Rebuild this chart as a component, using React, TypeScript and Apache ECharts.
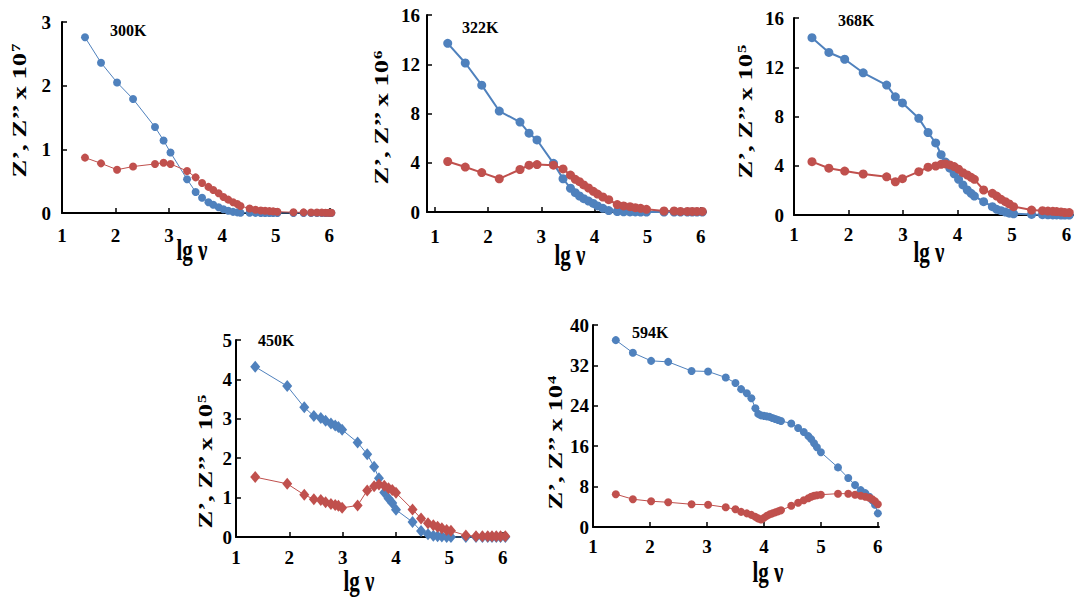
import React, { useEffect, useRef } from "react";
import * as echarts from "echarts";

// ---------- data (lg ν, Z', Z'') ----------
const LG_TICKS = [1, 2, 3, 4, 5, 6];
const TEMPS = ["300K", "322K", "368K", "450K", "594K"];
const EXPONENTS = ["7", "6", "5", "5", "4"];
const Y_MAX = [3, 16, 16, 5, 40];
const Y_STEP = [1, 4, 4, 1, 8];

const T300_LGV = [1.43, 1.73, 2.03, 2.33, 2.74, 2.9, 3.03, 3.34, 3.5, 3.62, 3.74, 3.83, 3.93, 4.02, 4.11, 4.2, 4.28, 4.34, 4.51, 4.62, 4.72, 4.8, 4.88, 4.95, 5.03, 5.33, 5.52, 5.66, 5.77, 5.86, 5.93, 5.99, 6.04];
const T300_ZRE = [2.76, 2.36, 2.05, 1.79, 1.35, 1.14, 0.95, 0.53, 0.33, 0.24, 0.17, 0.13, 0.09, 0.06, 0.035, 0.018, 0.01, 0.005, 0.003, 0.002, 0.001, 0, 0, 0, 0, 0, 0, 0, 0, 0, 0, 0, 0];
const T300_ZIM = [0.87, 0.78, 0.68, 0.73, 0.77, 0.79, 0.77, 0.66, 0.56, 0.47, 0.41, 0.36, 0.31, 0.25, 0.21, 0.17, 0.14, 0.11, 0.07, 0.05, 0.04, 0.035, 0.03, 0.025, 0.02, 0.012, 0.01, 0.008, 0.007, 0.006, 0.005, 0.005, 0.004];

const T322_LGV = [1.24, 1.57, 1.88, 2.21, 2.6, 2.77, 2.92, 3.23, 3.41, 3.55, 3.64, 3.72, 3.8, 3.89, 3.98, 4.06, 4.16, 4.27, 4.43, 4.55, 4.67, 4.77, 4.87, 4.98, 5.31, 5.5, 5.62, 5.75, 5.84, 5.93, 6.03];
const T322_ZRE = [13.7, 12.1, 10.3, 8.2, 7.3, 6.4, 5.85, 3.95, 2.7, 1.93, 1.57, 1.3, 1.08, 0.89, 0.7, 0.49, 0.3, 0.12, 0.04, 0.02, 0.01, 0.01, 0, 0, 0, 0, 0, 0, 0, 0, 0];
const T322_ZIM = [4.1, 3.65, 3.2, 2.7, 3.45, 3.8, 3.85, 3.8, 3.5, 3.0, 2.65, 2.46, 2.2, 1.95, 1.68, 1.46, 1.22, 1.0, 0.6, 0.49, 0.43, 0.35, 0.3, 0.22, 0.08, 0.08, 0.05, 0.05, 0.05, 0.05, 0.05];

const T368_LGV = [1.33, 1.64, 1.93, 2.27, 2.7, 2.86, 2.99, 3.29, 3.46, 3.6, 3.7, 3.78, 3.86, 3.94, 4.02, 4.1, 4.18, 4.25, 4.31, 4.48, 4.64, 4.72, 4.8, 4.88, 4.95, 5.03, 5.36, 5.56, 5.66, 5.75, 5.82, 5.9, 5.97, 6.05];
const T368_ZRE = [14.4, 13.2, 12.65, 11.55, 10.55, 9.6, 9.1, 7.85, 6.7, 5.85, 4.9, 4.3, 3.8, 3.35, 2.9, 2.44, 2.03, 1.76, 1.54, 1.08, 0.68, 0.46, 0.35, 0.24, 0.15, 0.1, 0.05, 0.03, 0.02, 0.01, 0.01, 0, 0, 0];
const T368_ZIM = [4.33, 3.8, 3.57, 3.33, 3.1, 2.7, 2.95, 3.52, 3.88, 3.98, 4.12, 4.15, 4.07, 3.93, 3.72, 3.44, 3.25, 3.06, 2.9, 2.03, 1.76, 1.54, 1.27, 1.08, 0.9, 0.68, 0.4, 0.35, 0.32, 0.3, 0.28, 0.25, 0.2, 0.2];

const T450_LGV = [1.36, 1.96, 2.28, 2.46, 2.59, 2.68, 2.78, 2.86, 2.92, 2.99, 3.28, 3.46, 3.59, 3.68, 3.78, 3.86, 3.93, 4.0, 4.31, 4.47, 4.6, 4.7, 4.78, 4.86, 4.95, 5.03, 5.31, 5.5, 5.62, 5.72, 5.8, 5.88, 5.96, 6.05];
const T450_ZRE = [4.32, 3.83, 3.29, 3.07, 3.02, 2.95, 2.88, 2.83, 2.79, 2.72, 2.4, 2.1, 1.78, 1.49, 1.13, 0.98, 0.86, 0.69, 0.38, 0.15, 0.07, 0.03, 0.02, 0.01, 0, 0, 0, 0, 0, 0, 0, 0, 0, 0];
const T450_ZIM = [1.52, 1.35, 1.07, 0.96, 0.94, 0.88, 0.84, 0.81, 0.79, 0.74, 0.8, 1.18, 1.29, 1.33, 1.3, 1.24, 1.19, 1.12, 0.7, 0.47, 0.35, 0.3, 0.26, 0.22, 0.18, 0.16, 0.04, 0.02, 0.02, 0.02, 0.02, 0.02, 0.02, 0.02];

const T594_LGV = [1.4, 1.7, 2.02, 2.32, 2.73, 3.02, 3.33, 3.5, 3.6, 3.7, 3.78, 3.85, 3.9, 3.95, 4.0, 4.05, 4.1, 4.15, 4.2, 4.25, 4.3, 4.48, 4.6, 4.7, 4.78, 4.83, 4.88, 4.93, 5.0, 5.3, 5.48, 5.6, 5.7, 5.78, 5.85, 5.9, 5.95, 6.0];
const T594_ZRE = [37.0, 34.5, 32.9, 32.7, 30.9, 30.8, 29.6, 28.5, 27.3, 26.5, 25.5, 23.5, 22.4, 22.1, 22.0, 21.9, 21.8, 21.6, 21.4, 21.2, 21.0, 20.5, 19.6, 18.8, 18.0, 17.4, 16.6, 15.8, 14.8, 11.8, 9.7, 8.3, 7.3, 6.7, 6.0, 5.3, 4.4, 2.7];
const T594_ZIM = [6.5, 5.5, 5.1, 4.9, 4.5, 4.4, 3.9, 3.5, 3.0, 2.7, 2.4, 2.0, 1.7, 1.5, 1.8, 2.2, 2.5, 2.7, 2.9, 3.1, 3.3, 4.2, 4.8, 5.3, 5.7, 6.0, 6.2, 6.3, 6.4, 6.6, 6.6, 6.4, 6.2, 6.0, 5.8, 5.5, 5.1, 4.5];

const LGV = [T300_LGV, T322_LGV, T368_LGV, T450_LGV, T594_LGV];
const ZRE = [T300_ZRE, T322_ZRE, T368_ZRE, T450_ZRE, T594_ZRE];
const ZIM = [T300_ZIM, T322_ZIM, T368_ZIM, T450_ZIM, T594_ZIM];

// ---------- layout / style ----------
const FONT = "'Liberation Serif', 'Times New Roman', serif";
const BLUE = "#4F81BD";
const RED = "#C0504D";

const LAYOUT = [
  { left: 62, top: 22, width: 271, height: 191, xMin: 1, xMax: 6.07, yLabMargin: 11, xLabMargin: 13, yTitle: [19, 111], xTitle: [192, 250], temp: [110, 30], symbol: "circle", size: 8, lw: 1 },
  { left: 427, top: 15, width: 279, height: 197, xMin: 0.85, xMax: 6.1, yLabMargin: 7, xLabMargin: 15, yTitle: [381, 118], xTitle: [570, 255], temp: [462, 27], symbol: "circle", size: 9, lw: 2 },
  { left: 794, top: 18, width: 279, height: 197, xMin: 1, xMax: 6.12, yLabMargin: 10, xLabMargin: 10, yTitle: [745, 112], xTitle: [929, 252], temp: [838, 20], symbol: "circle", size: 9, lw: 2 },
  { left: 236, top: 340, width: 272, height: 197, xMin: 1, xMax: 6.1, yLabMargin: 4, xLabMargin: 11, yTitle: [205, 462], xTitle: [359, 581], temp: [258, 340], symbol: "diamond", size: [10, 12], lw: 1 },
  { left: 593, top: 325, width: 286, height: 202, xMin: 1, xMax: 6.02, yLabMargin: 4, xLabMargin: 10, yTitle: [555, 443], xTitle: [768, 572], temp: [632, 332], symbol: "circle", size: 8, lw: 1 },
];

const labelStyle = { color: "#000", fontFamily: FONT, fontWeight: "bold" as const, fontSize: 19 };

function buildOption() {
  const grid: any[] = [];
  const xAxis: any[] = [];
  const yAxis: any[] = [];
  const series: any[] = [];
  const graphic: any[] = [];

  LAYOUT.forEach((L, i) => {
    grid.push({ left: L.left, top: L.top, width: L.width, height: L.height, containLabel: false });
    xAxis.push({
      type: "value",
      gridIndex: i,
      min: L.xMin,
      max: L.xMax,
      splitLine: { show: false },
      axisLine: { show: true, onZero: false, lineStyle: { color: "#000", width: 2 } },
      axisTick: { show: true, inside: true, length: 5, lineStyle: { color: "#000", width: 1.5 }, customValues: LG_TICKS },
      axisLabel: { ...labelStyle, margin: L.xLabMargin, customValues: LG_TICKS, formatter: (v: number) => String(Math.round(v)) },
    });
    yAxis.push({
      type: "value",
      gridIndex: i,
      min: 0,
      max: Y_MAX[i],
      interval: Y_STEP[i],
      splitLine: { show: false },
      axisLine: { show: true, onZero: false, lineStyle: { color: "#000", width: 2 } },
      axisTick: { show: true, inside: true, length: 5, lineStyle: { color: "#000", width: 1.5 } },
      axisLabel: { ...labelStyle, margin: L.yLabMargin },
    });
    const mk = (vals: number[], color: string, name: string) => ({
      type: "line",
      name,
      xAxisIndex: i,
      yAxisIndex: i,
      data: LGV[i].map((x, k) => [x, vals[k]]),
      symbol: L.symbol,
      symbolSize: L.size,
      showSymbol: true,
      clip: false,
      lineStyle: { color, width: L.lw },
      itemStyle: { color },
      emphasis: { disabled: true },
    });
    series.push(mk(ZRE[i], BLUE, "Z' " + TEMPS[i]));
    series.push(mk(ZIM[i], RED, "Z'' " + TEMPS[i]));

    graphic.push({
      type: "text",
      x: L.yTitle[0],
      y: L.yTitle[1],
      rotation: Math.PI / 2,
      scaleX: 1.4,
      style: {
        text: "{m|Z’, Z’’ x 10}{s|" + EXPONENTS[i] + "}",
        align: "center",
        verticalAlign: "middle",
        fill: "#000",
        rich: {
          m: { fontSize: 19, fontWeight: "bold", fontFamily: FONT, fill: "#000" },
          s: { fontSize: 12, fontWeight: "bold", fontFamily: FONT, fill: "#000", verticalAlign: "top" },
        },
      },
    });
    graphic.push({
      type: "text",
      x: L.xTitle[0],
      y: L.xTitle[1],
      scaleY: 1.4,
      style: { text: "lg ν", align: "center", verticalAlign: "middle", fill: "#000", fontSize: 21, fontWeight: "bold", fontFamily: FONT },
    });
    graphic.push({
      type: "text",
      x: L.temp[0],
      y: L.temp[1],
      style: { text: TEMPS[i], align: "left", verticalAlign: "middle", fill: "#000", fontSize: 16, fontWeight: "bold", fontFamily: FONT },
    });
  });

  return { animation: false, backgroundColor: "#fff", grid, xAxis, yAxis, series, graphic };
}

export default function App() {
  const ref = useRef<HTMLDivElement>(null);
  useEffect(() => {
    document.body.style.margin = "0";
    if (!ref.current) return;
    const chart = echarts.init(ref.current, undefined, { renderer: "svg" });
    chart.setOption(buildOption() as any);
    return () => chart.dispose();
  }, []);
  return <div ref={ref} style={{ width: 1080, height: 601 }} />;
}
